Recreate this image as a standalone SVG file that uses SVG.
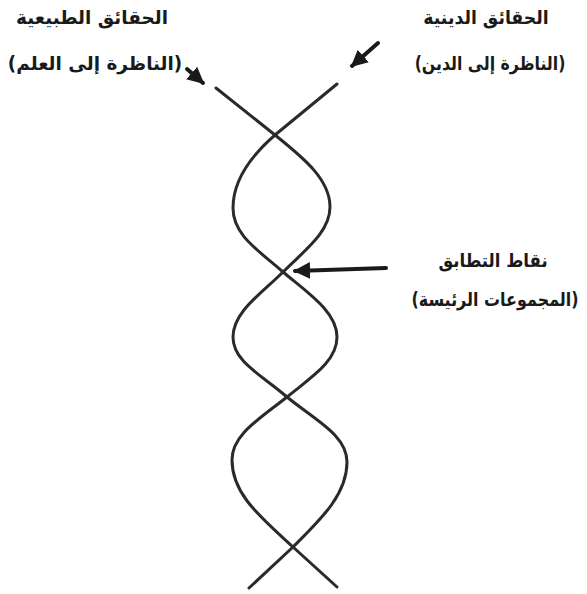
<svg xmlns="http://www.w3.org/2000/svg" width="587" height="594" viewBox="0 0 587 594">
<style>
.t{font-family:"DejaVu Sans","Noto Sans",sans-serif;font-weight:bold;font-size:19px;fill:#1a1a1a;text-anchor:middle}
.s{fill:none;stroke:#2a2a2a;stroke-width:3;stroke-linecap:round}
.a{fill:none;stroke:#1a1a1a;stroke-width:4;stroke-linecap:round}
</style>
<defs>
<marker id="ah" viewBox="0 0 10 10" refX="9" refY="5" markerWidth="4.2" markerHeight="4.2" orient="auto" markerUnits="strokeWidth">
<path d="M0,0 L10,5 L0,10 z" fill="#1a1a1a"/>
</marker>
</defs>
<rect width="587" height="594" fill="#fff"/>
<g id="connectors">
<path class="s" d="M216,88 L275,135 C305,159 330,180 330,207 C330,232 305,250 283,272 C261,294 233,312 233,337 C233,362 262,375 287,397 C315,420 347,435 347,462 C347,495 320,520 293,547 L249,588"/>
<path class="s" d="M337,84 L275,135 C252,155 233,180 233,208 C233,235 258,250 283,272 C308,293 337,312 337,337 C337,362 310,378 287,397 C258,420 232,435 232,460 C232,495 262,518 293,547 L337,587"/>
<path class="a" d="M187,69 L203,83" marker-end="url(#ah)"/>
<path class="a" d="M378,43 L352,66" marker-end="url(#ah)"/>
<path class="a" d="M386,268 L295,271" marker-end="url(#ah)"/>
</g>
<g id="natural">
<text class="t" transform="translate(92,24) scale(0.97,1)">الحقائق الطبيعية</text>
<text class="t" transform="translate(95,70) scale(0.97,1)">(الناظرة إلى العلم)</text>
</g>
<g id="religious">
<text class="t" transform="translate(486,24) scale(0.91,1)">الحقائق الدينية</text>
<text class="t" transform="translate(490,70) scale(0.83,1)">(الناظرة إلى الدين)</text>
</g>
<g id="intersection">
<text class="t" transform="translate(493,267) scale(0.87,1)">نقاط التطابق</text>
<text class="t" transform="translate(495,306) scale(0.84,1)">(المجموعات الرئيسة)</text>
</g>
</svg>
